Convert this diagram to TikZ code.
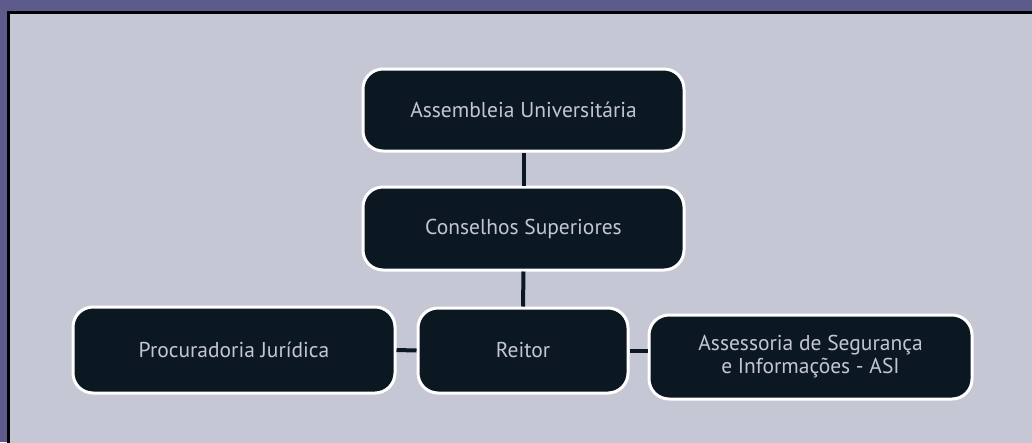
\documentclass[tikz,border=0pt]{standalone}
\usepackage{fontspec}
\setmainfont{PT Sans}
\definecolor{outerbg}{HTML}{5D5A8C}
\definecolor{panelbg}{HTML}{C5C8D4}
\definecolor{boxfill}{HTML}{0B1822}
\definecolor{boxtext}{HTML}{C3C6D2}
\tikzset{
  orgbox/.style={rectangle, rounded corners=20pt, draw=white, line width=3pt, fill=boxfill,
    text=boxtext, font=\fontsize{21.5}{23}\selectfont, align=center, inner sep=0pt},
  link/.style={draw=boxfill, line width=4pt}
}
\begin{document}
\begin{tikzpicture}[x=1pt,y=-1pt]
\useasboundingbox (0,0) rectangle (1032,442);
\fill[outerbg] (0,0) rectangle (1032,442);
\draw[fill=panelbg, draw=black, line width=3pt] (8.5,12.5) rectangle (1040,450);
\node[orgbox, minimum width=321pt, minimum height=82pt] (A) at (523.5,110) {Assembleia Universitária};
\node[orgbox, minimum width=321pt, minimum height=83pt] (C) at (523.5,228.5) {Conselhos Superiores};
\node[orgbox, minimum width=210pt, minimum height=85pt] (R) at (523,350.5) {Reitor};
\node[orgbox, minimum width=322pt, minimum height=86pt] (P) at (234,350) {Procuradoria Jurídica};
\node[orgbox, minimum width=323pt, minimum height=84pt] (S) at (810.5,357) {Assessoria de Segurança\\e Informações - ASI};
\draw[link] (A.south) -- (C.north);
\draw[link] (C.south) -- (R.north);
\draw[link] (P.east) -- (R.west);
\draw[link] (R.east) -- (R.east -| S.west);
\end{tikzpicture}
\end{document}
